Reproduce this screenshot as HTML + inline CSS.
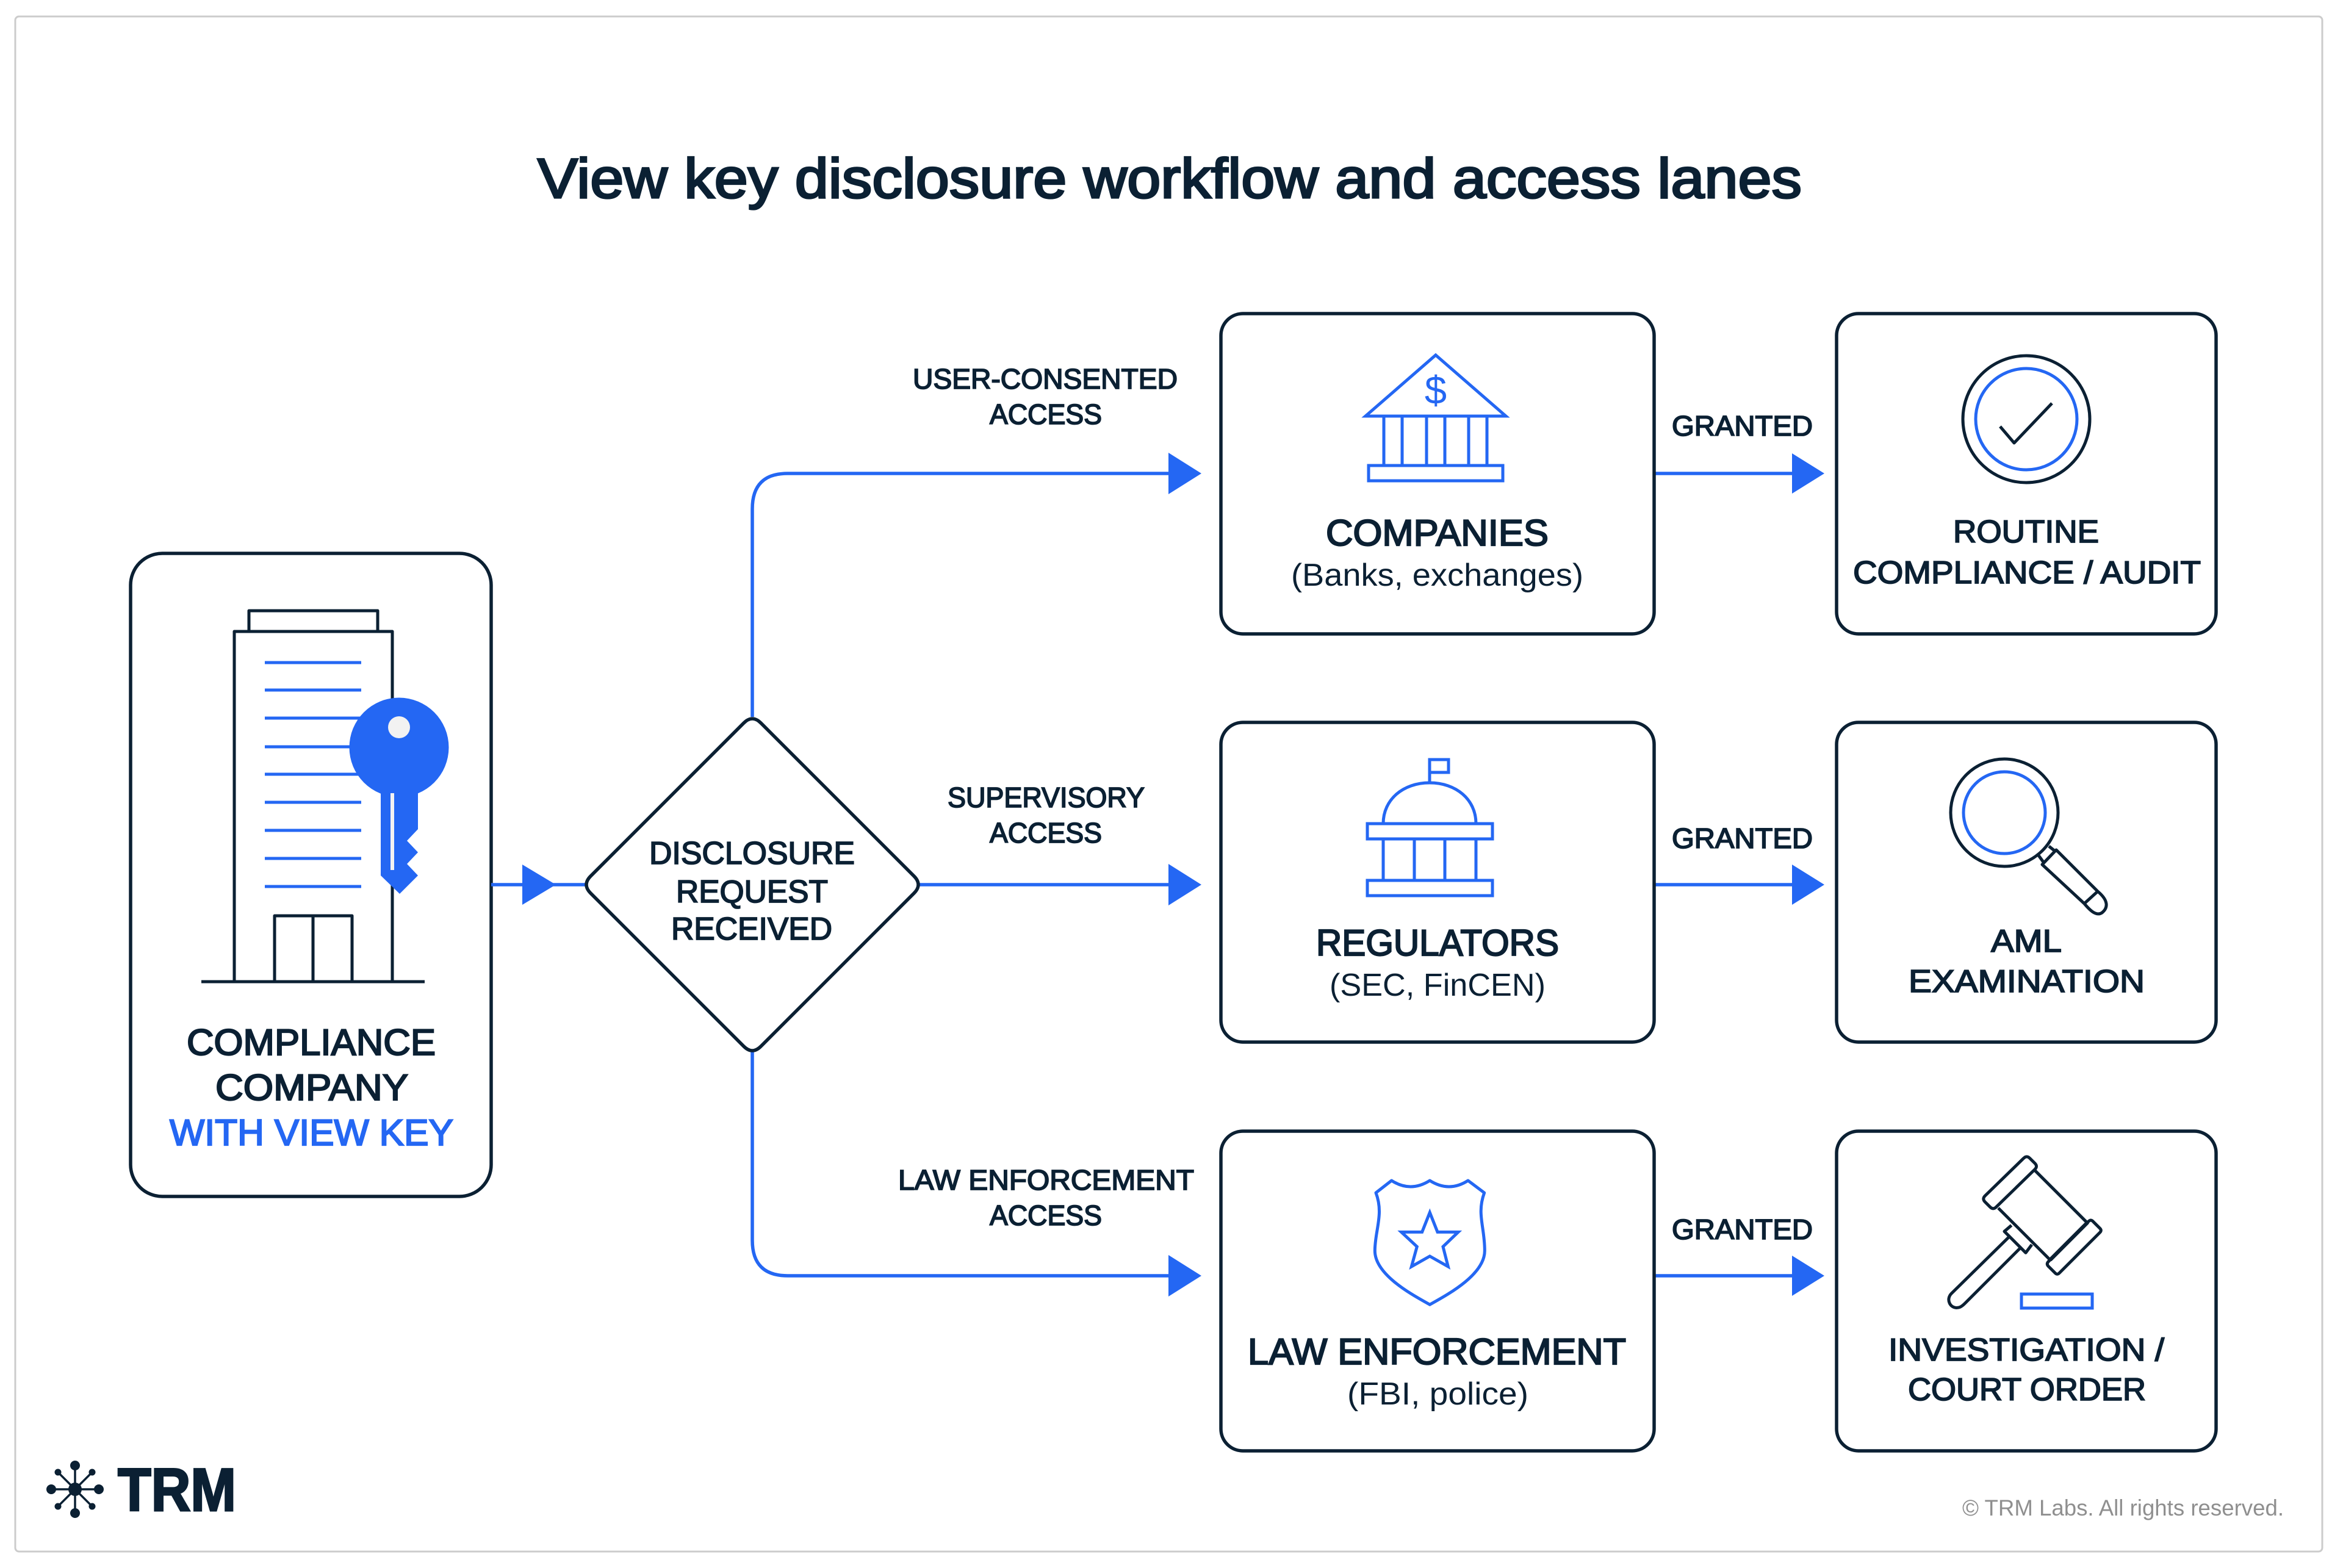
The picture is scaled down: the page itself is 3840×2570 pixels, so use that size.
<!DOCTYPE html>
<html><head><meta charset="utf-8"><style>
html,body{margin:0;padding:0;background:#fff}
svg{display:block}
text{font-family:"Liberation Sans",sans-serif;fill:#0b2033}
.m{stroke:#0b2033;stroke-width:1.8px}
.h{stroke:#0b2033;stroke-width:2.2px}
.b{fill:#2467f3;stroke:#2467f3;stroke-width:2.2px}
.d{fill:none;stroke:#0b2033;stroke-width:5;stroke-linejoin:round}
.x{fill:none;stroke:#0b2033;stroke-width:5.5;stroke-linejoin:round}
.u{fill:none;stroke:#2467f3;stroke-width:5}
.c{fill:none;stroke:#2467f3;stroke-width:5.5}
</style></head><body>
<svg width="3840" height="2570" viewBox="0 0 3840 2570" xmlns="http://www.w3.org/2000/svg">
<rect width="3840" height="2570" fill="#fff"/>
<rect x="25" y="27" width="3781" height="2516" rx="6" fill="#fff" stroke="#cccccc" stroke-width="3"/>

<text x="881" y="324" font-size="92" textLength="2072" lengthAdjust="spacingAndGlyphs" style="stroke:#0b2033;stroke-width:3.2px">View key disclosure workflow and access lanes</text>

<!-- company -->
<rect class="x" x="214" y="907" width="591" height="1054" rx="52"/>
<g class="d">
<rect x="408" y="1001" width="211" height="34"/>
<rect x="384" y="1035" width="259" height="574"/>
<path d="M330 1609H696"/>
<path d="M450 1609V1501H577V1609M513 1501V1609"/>
</g>
<path class="u" d="M434 1086H592M434 1131H592M434 1177H592M434 1224H592M434 1269H592M434 1315H592M434 1361H592M434 1407H592M434 1453H592"/>
<circle cx="654" cy="1225" r="81.5" fill="#2467f3"/>
<path fill="#2467f3" d="M624 1290H685V1359L667 1378L685 1397L667 1416L685 1435L655 1465L624 1435Z"/>
<circle cx="654" cy="1192" r="18" fill="#f2f2f2"/>
<rect x="640" y="1300" width="6" height="126" fill="#f2f2f2"/>
<text class="h" x="306" y="1729" font-size="60" textLength="408" lengthAdjust="spacingAndGlyphs">COMPLIANCE</text>
<text class="h" x="353" y="1803" font-size="60" textLength="316" lengthAdjust="spacingAndGlyphs">COMPANY</text>
<text class="b" x="278" y="1877" font-size="60" textLength="465" lengthAdjust="spacingAndGlyphs">WITH VIEW KEY</text>

<!-- connectors -->
<path class="c" d="M805 1450H959M1507 1450H1915M1233 1175V834Q1233 776 1291 776H1915M1233 1724V2033Q1233 2091 1291 2091H1915M2711 776H2937M2711 1450H2937M2711 2091H2937"/>
<g fill="#2467f3">
<path d="M856 1417L911 1450L856 1483Z"/>
<path d="M1915 742L1969 776L1915 810ZM1915 1416L1969 1450L1915 1484ZM1915 2057L1969 2091L1915 2125Z"/>
<path d="M2937 743L2990 776L2937 809ZM2937 1417L2990 1450L2937 1483ZM2937 2058L2990 2091L2937 2124Z"/>
</g>

<!-- diamond -->
<path class="x" style="fill:#fff" d="M1219 1185Q1233 1171 1247 1185L1498 1436Q1512 1450 1498 1464L1247 1715Q1233 1729 1219 1715L968 1464Q954 1450 968 1436Z"/>
<text class="m" x="1064" y="1416" font-size="52" textLength="337" lengthAdjust="spacingAndGlyphs">DISCLOSURE</text>
<text class="m" x="1108" y="1479" font-size="52" textLength="249" lengthAdjust="spacingAndGlyphs">REQUEST</text>
<text class="m" x="1100" y="1540" font-size="52" textLength="264" lengthAdjust="spacingAndGlyphs">RECEIVED</text>

<!-- lane labels -->
<text class="m" x="1496" y="637" font-size="46" textLength="434" lengthAdjust="spacingAndGlyphs">USER-CONSENTED</text>
<text class="m" x="1622" y="695" font-size="46" textLength="184" lengthAdjust="spacingAndGlyphs">ACCESS</text>
<text class="m" x="1553" y="1323" font-size="46" textLength="323" lengthAdjust="spacingAndGlyphs">SUPERVISORY</text>
<text class="m" x="1622" y="1381" font-size="46" textLength="184" lengthAdjust="spacingAndGlyphs">ACCESS</text>
<text class="m" x="1472" y="1950" font-size="46" textLength="485" lengthAdjust="spacingAndGlyphs">LAW ENFORCEMENT</text>
<text class="m" x="1622" y="2008" font-size="46" textLength="184" lengthAdjust="spacingAndGlyphs">ACCESS</text>
<text class="m" x="2740" y="714" font-size="46" textLength="231" lengthAdjust="spacingAndGlyphs">GRANTED</text>
<text class="m" x="2740" y="1390" font-size="46" textLength="231" lengthAdjust="spacingAndGlyphs">GRANTED</text>
<text class="m" x="2740" y="2031" font-size="46" textLength="231" lengthAdjust="spacingAndGlyphs">GRANTED</text>

<!-- boxes -->
<g class="x">
<rect x="2001" y="514" width="710" height="525" rx="36"/>
<rect x="3010" y="514" width="622" height="525" rx="36"/>
<rect x="2001" y="1184" width="710" height="524" rx="36"/>
<rect x="3010" y="1184" width="622" height="524" rx="36"/>
<rect x="2001" y="1854" width="710" height="524" rx="36"/>
<rect x="3010" y="1854" width="622" height="524" rx="36"/>
</g>

<!-- bank -->
<g class="u">
<path d="M2353 582L2468 682H2238Z"/>
<path d="M2268 682V763M2298 682V763M2338 682V763M2368 682V763M2407 682V763M2437 682V763"/>
<rect x="2243" y="763" width="220" height="25"/>
</g>
<text x="2353" y="662" font-size="65" text-anchor="middle" style="fill:#2467f3">$</text>

<!-- check -->
<circle class="d" cx="3321" cy="687" r="104"/>
<circle class="u" cx="3321" cy="687" r="83"/>
<path class="d" d="M3278 699L3301 726L3363 661"/>

<!-- capitol -->
<g class="u">
<path d="M2343 1282V1244"/>
<rect x="2343" y="1245" width="31" height="21"/>
<path d="M2267 1350C2267 1310 2300 1283 2343 1283C2386 1283 2419 1310 2419 1350"/>
<rect x="2241" y="1350" width="205" height="25"/>
<path d="M2267 1375V1443M2318 1375V1443M2368 1375V1443M2419 1375V1443"/>
<rect x="2241" y="1443" width="205" height="25"/>
</g>

<!-- magnifier -->
<circle class="d" cx="3285" cy="1332" r="88"/>
<circle class="u" cx="3285" cy="1332" r="67"/>
<path class="d" d="M3341 1402L3349 1413M3358 1387L3368 1395M3347 1417L3370 1393L3438 1461L3416 1481ZM3438 1461C3456 1476 3455 1488 3445 1496C3436 1502 3426 1493 3416 1481"/>

<!-- shield -->
<g transform="translate(2220 1910) scale(.3333)" fill="none" stroke="#2467f3" stroke-width="15" stroke-linejoin="round">
<path d="M105 135L182 75Q275 135 370 75Q465 135 558 75L638 135C600 240 640 300 640 420C640 540 450 640 370 685C290 640 100 540 100 420C100 320 145 240 105 135Z"/>
<path stroke-linejoin="miter" d="M370 232L408 328H510L435 400L460 498L370 447L280 498L307 400L230 328H332Z"/>
</g>

<!-- gavel -->
<g transform="translate(3160 1880) scale(.3333)" fill="none" stroke="#0b2033" stroke-width="15" stroke-linejoin="round">
<path d="M470 55Q485 40 500 55L525 80Q540 95 525 110L335 295Q320 310 305 295L280 270Q265 255 280 240Z"/>
<path d="M525 115L780 370M345 300L600 555"/>
<path stroke-width="19" d="M785 370L600 555"/>
<path d="M790 365Q800 355 810 365L845 400Q855 410 845 420L645 620Q635 630 625 620L590 585Q582 575 590 565Z"/>
<path d="M410 385L375 415L480 520L510 480"/>
<path d="M395 445L115 720C85 750 110 795 145 790Q160 790 180 770L450 500"/>
</g>
<rect class="u" x="3313" y="2121" width="116" height="23"/>

<!-- node text -->
<text class="h" x="2173" y="894" font-size="60" textLength="365" lengthAdjust="spacingAndGlyphs">COMPANIES</text>
<text x="2116" y="960" font-size="52" textLength="479" lengthAdjust="spacingAndGlyphs">(Banks, exchanges)</text>
<text class="m" x="3201" y="889" font-size="52" textLength="239" lengthAdjust="spacingAndGlyphs">ROUTINE</text>
<text class="m" x="3037" y="956" font-size="52" textLength="570" lengthAdjust="spacingAndGlyphs">COMPLIANCE / AUDIT</text>
<text class="h" x="2157" y="1566" font-size="60" textLength="398" lengthAdjust="spacingAndGlyphs">REGULATORS</text>
<text x="2179" y="1632" font-size="52" textLength="354" lengthAdjust="spacingAndGlyphs">(SEC, FinCEN)</text>
<text class="m" x="3263" y="1560" font-size="52" textLength="116" lengthAdjust="spacingAndGlyphs">AML</text>
<text class="m" x="3128" y="1626" font-size="52" textLength="387" lengthAdjust="spacingAndGlyphs">EXAMINATION</text>
<text class="h" x="2045" y="2236" font-size="60" textLength="620" lengthAdjust="spacingAndGlyphs">LAW ENFORCEMENT</text>
<text x="2208" y="2302" font-size="52" textLength="297" lengthAdjust="spacingAndGlyphs">(FBI, police)</text>
<text class="m" x="3095" y="2230" font-size="52" textLength="452" lengthAdjust="spacingAndGlyphs">INVESTIGATION /</text>
<text class="m" x="3127" y="2295" font-size="52" textLength="390" lengthAdjust="spacingAndGlyphs">COURT ORDER</text>

<!-- logo -->
<g stroke="#0b2033" stroke-width="3.5"><path d="M123 2402V2480M84 2441H162M95 2413L151 2469M151 2413L95 2469"/></g>
<g fill="#0b2033">
<circle cx="123" cy="2441" r="11"/>
<circle cx="123" cy="2402" r="8"/><circle cx="123" cy="2480" r="8"/><circle cx="84" cy="2441" r="8"/><circle cx="162" cy="2441" r="8"/>
<circle cx="95" cy="2413" r="5.5"/><circle cx="151" cy="2413" r="5.5"/><circle cx="95" cy="2469" r="5.5"/><circle cx="151" cy="2469" r="5.5"/>
</g>
<text x="193" y="2476" font-size="99" font-weight="bold" textLength="194" lengthAdjust="spacingAndGlyphs" style="stroke:#0b2033;stroke-width:3px">TRM</text>

<text x="3216" y="2484" font-size="37" textLength="527" lengthAdjust="spacingAndGlyphs" style="fill:#8f8f8f">© TRM Labs. All rights reserved.</text>
</svg>
</body></html>
